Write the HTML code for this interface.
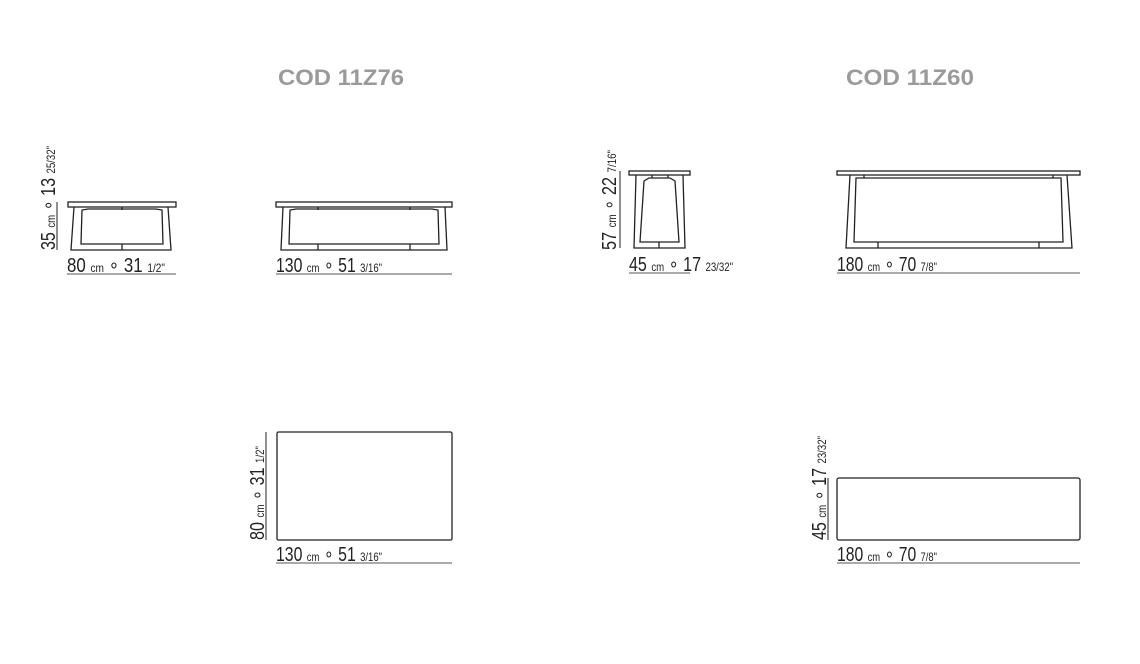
<!DOCTYPE html>
<html><head><meta charset="utf-8"><style>
html,body{margin:0;padding:0;background:#fff;width:1140px;height:664px;overflow:hidden}
svg{display:block}
.t{font-family:"Liberation Sans",sans-serif;fill:#222}
.ti{font-family:"Liberation Sans",sans-serif;font-weight:bold;font-size:22px;fill:#9a9a9a}
</style></head><body>
<svg width="1140" height="664" viewBox="0 0 1140 664" xmlns="http://www.w3.org/2000/svg">
<text class="ti" x="278" y="85" textLength="126" lengthAdjust="spacingAndGlyphs">COD 11Z76</text>
<text class="ti" x="846" y="85" textLength="128" lengthAdjust="spacingAndGlyphs">COD 11Z60</text>

<g fill="none" stroke="#222" stroke-width="1.3">
<rect x="68" y="202" width="108" height="5"/>
<path d="M74 207 L71 250 L171 250 L168 207"/>
<path d="M82 210 L81 244 L163 244 L162 210 L156 209 L88 209 Z"/>
<line x1="122" y1="207" x2="122" y2="210"/><line x1="122" y1="244" x2="122" y2="250"/>
<rect x="276" y="202" width="176" height="5"/>
<path d="M283 207 L281 250 L447 250 L445 207"/>
<path d="M290 210 L289 244 L439 244 L438 210 L432 209 L296 209 Z"/>
<line x1="318" y1="207" x2="318" y2="210"/><line x1="410" y1="207" x2="410" y2="210"/>
<line x1="318" y1="244" x2="318" y2="250"/><line x1="410" y1="244" x2="410" y2="250"/>
<rect x="629" y="171" width="61" height="4"/>
<path d="M636 175 L634 248 L685 248 L683 175"/>
<path d="M644 181 L640 242 L679 242 L675 181 L670 178 L649 178 Z"/>
<line x1="652" y1="175" x2="652" y2="178"/><line x1="668" y1="175" x2="668" y2="178"/>
<line x1="659" y1="242" x2="659" y2="248"/>
<rect x="837" y="171" width="243" height="4"/>
<path d="M850 175 L846 248 L1072 248 L1067 175"/>
<path d="M856 178 L854 242 L1063 242 L1061 178 Z"/>
<line x1="864" y1="175" x2="864" y2="178"/><line x1="1053" y1="175" x2="1053" y2="178"/>
<line x1="878" y1="242" x2="878" y2="248"/><line x1="1039" y1="242" x2="1039" y2="248"/>
<rect x="277" y="432" width="175" height="108" rx="1.5"/>
<rect x="837" y="478" width="243" height="62" rx="2"/>
</g>

<g stroke="#777" stroke-width="1.2">
<line x1="67" y1="274" x2="176" y2="274"/>
<line x1="276" y1="274" x2="452" y2="274"/>
<line x1="629" y1="273" x2="690" y2="273"/>
<line x1="837" y1="273" x2="1080" y2="273"/>
<line x1="276" y1="563" x2="452" y2="563"/>
<line x1="837" y1="563" x2="1080" y2="563"/>
</g>
<g stroke="#222" stroke-width="1">
<line x1="57" y1="202" x2="57" y2="250"/>
<line x1="620" y1="171" x2="620" y2="248"/>
<line x1="266" y1="432" x2="266" y2="540"/>
<line x1="828" y1="478" x2="828" y2="540"/>
</g>

<g class="t">
<text x="67" y="272" font-size="20" textLength="98" lengthAdjust="spacingAndGlyphs">80 <tspan font-size="12">cm</tspan> ∘ 31 <tspan font-size="12">1/2"</tspan></text>
<text x="276" y="272" font-size="20" textLength="106" lengthAdjust="spacingAndGlyphs">130 <tspan font-size="12">cm</tspan> ∘ 51 <tspan font-size="12">3/16"</tspan></text>
<text x="629" y="271" font-size="20" textLength="104" lengthAdjust="spacingAndGlyphs">45 <tspan font-size="12">cm</tspan> ∘ 17 <tspan font-size="12">23/32"</tspan></text>
<text x="837" y="271" font-size="20" textLength="100" lengthAdjust="spacingAndGlyphs">180 <tspan font-size="12">cm</tspan> ∘ 70 <tspan font-size="12">7/8"</tspan></text>
<text x="276" y="561" font-size="20" textLength="106" lengthAdjust="spacingAndGlyphs">130 <tspan font-size="12">cm</tspan> ∘ 51 <tspan font-size="12">3/16"</tspan></text>
<text x="837" y="561" font-size="20" textLength="100" lengthAdjust="spacingAndGlyphs">180 <tspan font-size="12">cm</tspan> ∘ 70 <tspan font-size="12">7/8"</tspan></text>

<text transform="translate(55,250) rotate(-90)" font-size="20" textLength="104" lengthAdjust="spacingAndGlyphs">35 <tspan font-size="12">cm</tspan> ∘ 13 <tspan font-size="12">25/32"</tspan></text>
<text transform="translate(616,250) rotate(-90)" font-size="20" textLength="100" lengthAdjust="spacingAndGlyphs">57 <tspan font-size="12">cm</tspan> ∘ 22 <tspan font-size="12">7/16"</tspan></text>
<text transform="translate(264,540) rotate(-90)" font-size="20" textLength="94" lengthAdjust="spacingAndGlyphs">80 <tspan font-size="12">cm</tspan> ∘ 31 <tspan font-size="12">1/2"</tspan></text>
<text transform="translate(826,540) rotate(-90)" font-size="20" textLength="104" lengthAdjust="spacingAndGlyphs">45 <tspan font-size="12">cm</tspan> ∘ 17 <tspan font-size="12">23/32"</tspan></text>
</g>
</svg>
</body></html>
